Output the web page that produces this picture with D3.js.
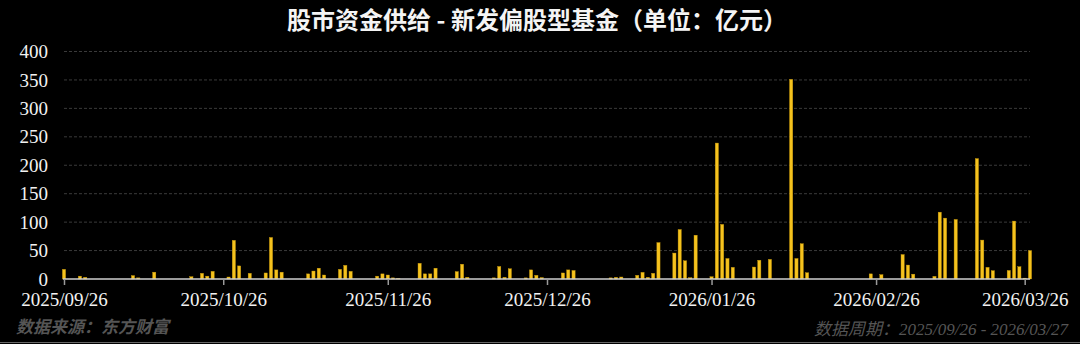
<!DOCTYPE html>
<html>
<head>
<meta charset="utf-8">
<script src="https://cdn.jsdelivr.net/npm/d3@7"></script>
<style>
  html, body { margin: 0; padding: 0; background: #000; }
  #chart { width: 1080px; height: 344px; }
</style>
</head>
<body>
<div id="chart"></div>
<script>
// daily new equity fund issuance (亿元)
const dates = [
  "2025-09-26","2025-09-29","2025-09-30","2025-10-09","2025-10-10","2025-10-13",
  "2025-10-20","2025-10-22","2025-10-23","2025-10-24","2025-10-27","2025-10-28",
  "2025-10-29","2025-10-31","2025-11-03","2025-11-04","2025-11-05","2025-11-06",
  "2025-11-11","2025-11-12","2025-11-13","2025-11-14","2025-11-17","2025-11-18",
  "2025-11-19","2025-11-24","2025-11-25","2025-11-26","2025-11-27","2025-11-28",
  "2025-12-02","2025-12-03","2025-12-04","2025-12-05","2025-12-09","2025-12-10",
  "2025-12-11","2025-12-16","2025-12-17","2025-12-18","2025-12-19","2025-12-22",
  "2025-12-23","2025-12-24","2025-12-25","2025-12-29","2025-12-30","2025-12-31",
  "2026-01-07","2026-01-08","2026-01-09","2026-01-12","2026-01-13","2026-01-14",
  "2026-01-15","2026-01-16","2026-01-19","2026-01-20","2026-01-21","2026-01-22",
  "2026-01-23","2026-01-26","2026-01-27","2026-01-28","2026-01-29","2026-01-30",
  "2026-02-03","2026-02-04","2026-02-06","2026-02-10","2026-02-11","2026-02-12",
  "2026-02-13","2026-02-25","2026-02-27","2026-03-03","2026-03-04","2026-03-05",
  "2026-03-09","2026-03-10","2026-03-11","2026-03-13","2026-03-17","2026-03-18",
  "2026-03-19","2026-03-20","2026-03-23","2026-03-24","2026-03-25","2026-03-26",
  "2026-03-27"
];
const amounts = [
  17, 5, 3, 6, 2, 12,
  4, 10, 5, 13.5, 3.5, 68,
  23, 10, 10.6, 73, 16, 12,
  9, 14, 19, 7, 17, 24,
  13.5, 5, 9, 7, 2, 1,
  27.6, 9, 9, 19, 13, 26,
  3, 2, 22, 3, 18, 2,
  16, 6.5, 2.5, 10.6, 16, 15,
  2, 3, 3.5, 6.5, 11.7, 3,
  10, 64, 45.6, 87, 32, 2.3,
  77, 4, 239, 96, 36, 20.5,
  21, 33, 34.5, 351, 36, 62,
  11, 9, 7.6, 43, 24.5, 8.5,
  4.7, 117.5, 107, 104.7, 211.7, 68.4,
  20.5, 14.6, 15, 101.8, 21.6, 1.5,
  50
];
const yTicks = [0, 50, 100, 150, 200, 250, 300, 350, 400];
const xTickDates = ["2025-09-26","2025-10-26","2025-11-26","2025-12-26","2026-01-26","2026-02-26","2026-03-26"];
const periodStart = "2025-09-26";
const periodEnd = "2026-03-27";

const titleText = "股市资金供给 - 新发偏股型基金（单位：亿元）";
const sourceText = "数据来源：东方财富";

const parse = d3.timeParse("%Y-%m-%d");
const fmt = d3.timeFormat("%Y/%m/%d");

const data = dates.map((d, i) => ({date: parse(d), value: amounts[i]}));

const width = 1080, height = 344;
const serif = "'Liberation Serif', 'DejaVu Serif', serif";
const sans = "'Noto Sans CJK SC', 'Noto Sans', sans-serif";

const svg = d3.select("#chart")
  .append("svg")
  .attr("width", width)
  .attr("height", height)
  .style("background", "#000");

const x = d3.scaleTime()
  .domain([parse(periodStart), parse(periodEnd)])
  .range([64, 1030]);

const y = d3.scaleLinear()
  .domain([0, 400])
  .range([279, 51.5]);

// gridlines
svg.append("g")
  .selectAll("line")
  .data(yTicks.filter(d => d > 0))
  .join("line")
    .attr("x1", 64)
    .attr("x2", 1030)
    .attr("y1", d => y(d))
    .attr("y2", d => y(d))
    .attr("stroke", "#3a3a3a")
    .attr("stroke-width", 1)
    .attr("stroke-dasharray", "3,2");

// y labels (no axis line)
svg.append("g")
  .selectAll("text")
  .data(yTicks)
  .join("text")
    .attr("x", 48)
    .attr("y", d => y(d))
    .attr("dy", "0.35em")
    .attr("text-anchor", "end")
    .attr("font-family", serif)
    .attr("font-size", "19px")
    .attr("fill", "#f2f2f2")
    .text(d => d);

// bars
const barW = 3.2;
svg.append("g")
  .selectAll("rect")
  .data(data)
  .join("rect")
    .attr("x", d => x(d.date) - barW / 2)
    .attr("y", d => y(d.value))
    .attr("width", barW)
    .attr("height", d => y(0) - y(d.value))
    .attr("fill", "#f5c21e")
    .attr("stroke", "#c99a0c")
    .attr("stroke-width", 0.4);

// x axis
const xAxis = d3.axisBottom(x)
  .tickValues(xTickDates.map(parse))
  .tickFormat(fmt)
  .tickSize(6)
  .tickPadding(8)
  .tickSizeOuter(0);

const xg = svg.append("g")
  .attr("transform", `translate(0, ${y(0)})`)
  .call(xAxis);

xg.select(".domain")
  .attr("stroke", "#cfcfcf")
  .attr("stroke-width", 1.5)
  .attr("d", `M${x.range()[0] - 1},0H${x.range()[1]}`);

xg.selectAll(".tick line")
  .attr("stroke", "#9a9a9a")
  .attr("stroke-width", 1.5);

xg.selectAll(".tick text")
  .attr("font-family", serif)
  .attr("font-size", "19px")
  .attr("fill", "#f2f2f2");

// title
svg.append("text")
  .attr("x", 537)
  .attr("y", 29)
  .attr("text-anchor", "middle")
  .attr("font-family", sans)
  .attr("font-weight", "bold")
  .attr("font-size", "24px")
  .attr("fill", "#f4f4f4")
  .text(titleText);

// footers
svg.append("text")
  .attr("x", 16)
  .attr("y", 333)
  .attr("font-family", sans)
  .attr("font-style", "italic")
  .attr("font-weight", "bold")
  .attr("font-size", "17px")
  .attr("fill", "#555")
  .text(sourceText);

const period = svg.append("text")
  .attr("x", 1068)
  .attr("y", 335)
  .attr("text-anchor", "end")
  .attr("font-style", "italic")
  .attr("font-size", "17px")
  .attr("fill", "#555");

period.append("tspan")
  .attr("font-family", sans)
  .text("数据周期：");

period.append("tspan")
  .attr("font-family", serif)
  .text(fmt(parse(periodStart)) + " - " + fmt(parse(periodEnd)));

// thin frame line at the bottom
svg.append("line")
  .attr("x1", 0)
  .attr("x2", width)
  .attr("y1", 342.5)
  .attr("y2", 342.5)
  .attr("stroke", "#666")
  .attr("stroke-width", 1);
</script>
</body>
</html>
